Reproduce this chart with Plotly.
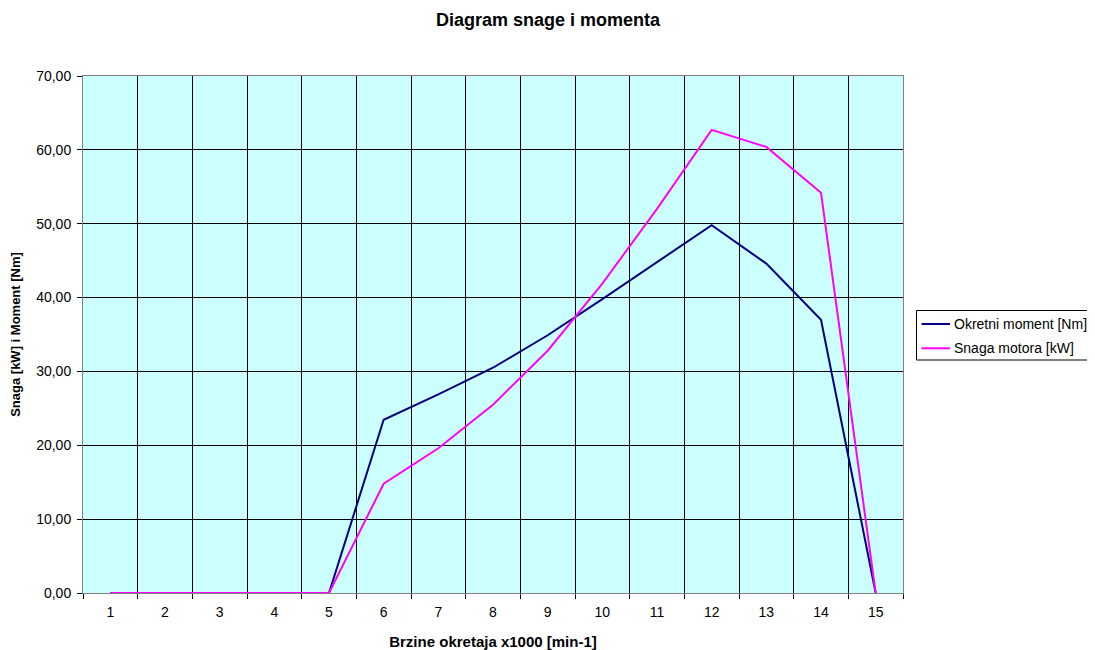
import plotly.graph_objects as go

categories = list(range(1, 16))
tick_labels = [str(c) for c in categories]
moment = [0, 0, 0, 0, 0, 23.45, 26.9, 30.5, 34.9, 39.8, 44.8, 49.8, 44.6, 37.0, 0]
snaga = [0, 0, 0, 0, 0, 14.8, 19.6, 25.5, 32.8, 41.9, 52.0, 62.7, 60.4, 54.2, 0]
series = [("Okretni moment [Nm]", moment, "#000080"),
          ("Snaga motora [kW]", snaga, "#FF00FF")]

font = "Liberation Sans, Arial, sans-serif"

W, H = 1087, 642
L, R, T, B = 75, 192, 68, 57
PW, PH = W - L - R, H - T - B

def px(x):
    return (x - 8 - L) / PW

def py(y):
    return (H - B - (y - 8)) / PH

fig = go.Figure()
for name, vals, color in series:
    fig.add_trace(go.Scatter(x=categories, y=vals, mode="lines", name=name,
                             line=dict(color=color, width=2), showlegend=False))

# manual legend (clipped at the right edge like the reference)
shapes = [dict(type="rect", xref="paper", yref="paper", x0=px(916.5), x1=px(1200),
               y0=py(360), y1=py(310.5), line=dict(color="black", width=1),
               fillcolor="white", layer="above")]
annotations = []
for i, (name, vals, color) in enumerate(series):
    yy = 324 + i * 24.3
    shapes.append(dict(type="line", xref="paper", yref="paper", x0=px(921.5), x1=px(950),
                       y0=py(yy), y1=py(yy), line=dict(color=color, width=2), layer="above"))
    annotations.append(dict(text=name, xref="paper", yref="paper", x=px(952), y=py(yy),
                            xanchor="left", yanchor="middle", showarrow=False,
                            font=dict(size=14, family=font, color="black")))

fig.update_layout(
    width=W, height=H,
    margin=dict(l=L, r=R, t=T, b=B, autoexpand=False),
    paper_bgcolor="white", plot_bgcolor="#CCFFFF",
    separators=", ",
    font=dict(family=font, size=13, color="black"),
    title=dict(text="<b>Diagram snage i momenta</b>", x=(548 - 8) / W, xanchor="center",
               y=1 - 12 / H, yanchor="middle", font=dict(size=18)),
    shapes=shapes, annotations=annotations,
    showlegend=False,
)

fig.update_xaxes(
    automargin=False,
    range=[0.5, 15.5], tickvals=categories, ticktext=tick_labels, ticks="",
    ticklabelstandoff=6,
    showgrid=False, zeroline=False, showline=True, linecolor="#808080", linewidth=1, mirror=True,
    minor=dict(tick0=0.5, dtick=1, showgrid=True, gridcolor="black", gridwidth=1,
               ticks="outside", ticklen=5, tickcolor="black"),
    title=dict(text="<b>Brzine okretaja x1000 [min-1]</b>", font=dict(size=15), standoff=22),
    tickfont=dict(size=14),
)
fig.update_yaxes(
    automargin=False,
    range=[0, 70], dtick=10, tickformat=".2f", ticks="outside", ticklen=5, tickcolor="black",
    ticklabelstandoff=3,
    showgrid=True, gridcolor="black", gridwidth=1, zeroline=False,
    showline=True, linecolor="#808080", linewidth=1, mirror=True,
    title=dict(text="<b>Snaga [kW] i Moment [Nm]</b>", font=dict(size=13), standoff=14),
    tickfont=dict(size=14),
)

fig.write_html("out.html")
